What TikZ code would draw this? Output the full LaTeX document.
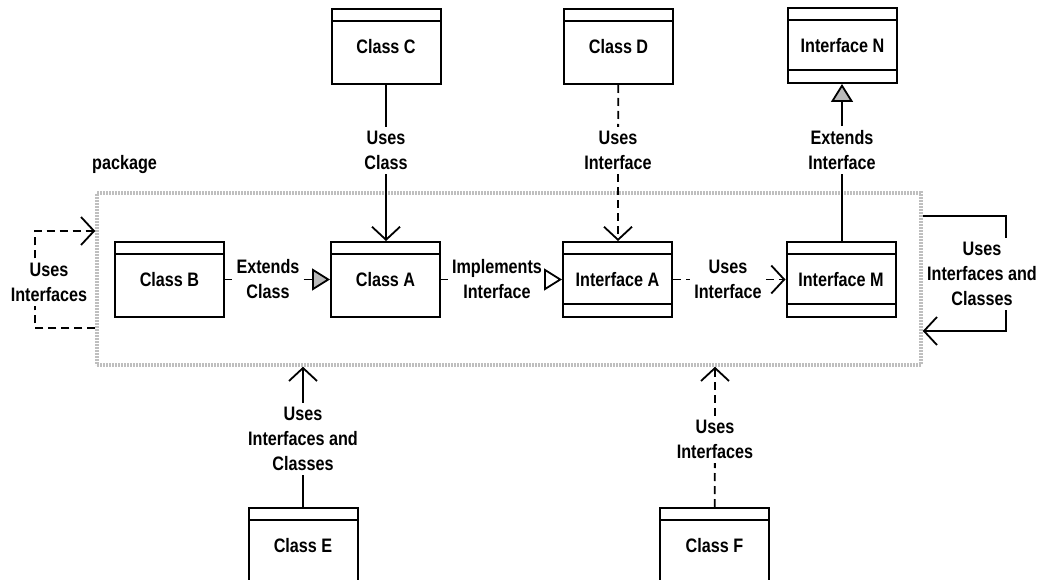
\documentclass[tikz,border=0pt]{standalone}
\usepackage{fontspec}
\setmainfont{Liberation Sans}[FakeStretch=0.83]
\usetikzlibrary{arrows.meta}
\begin{document}
\begin{tikzpicture}[x=1pt,y=-1pt,
  every node/.style={font=\fontsize{19.5}{25}\selectfont\bfseries},
  umlclass/.style={draw, line width=2pt, minimum width=109pt, minimum height=75pt, inner sep=0pt,
    path picture={\draw[line width=2pt] ([yshift=-12pt]path picture bounding box.north west) -- ([yshift=-12pt]path picture bounding box.north east);}},
  umliface/.style={draw, line width=2pt, minimum width=109pt, minimum height=75pt, inner sep=0pt,
    path picture={\draw[line width=2pt] ([yshift=-12pt]path picture bounding box.north west) -- ([yshift=-12pt]path picture bounding box.north east);
      \draw[line width=2pt] ([yshift=13pt]path picture bounding box.south west) -- ([yshift=13pt]path picture bounding box.south east);}},
  lbl/.style={align=center, inner sep=4pt},
  conn/.style={line width=1.8pt},
  dashconn/.style={line width=1.8pt, dash pattern=on 8pt off 5pt},
  usesarrow/.style={-{Straight Barb[length=13pt,width=28pt,line width=1.8pt]}},
  extendsarrow/.style={-{Triangle[length=18pt,width=22pt,fill=gray!55,line width=1.8pt]}},
  implarrow/.style={-{Triangle[open,length=18pt,width=22pt,line width=1.8pt]}},
  pkgborder/.style={draw=gray!50, line width=3.5pt, dash pattern=on 2pt off 1pt, minimum width=824pt, minimum height=172pt, inner sep=0pt}
]
\useasboundingbox (0,0) rectangle (1039,580);

% package frame and its title
\node[pkgborder] (pkg) at (509,279) {};
\node[anchor=west, inner sep=0pt] (pkgname) at (92,165) {package};

% classes and interfaces
\node[umlclass] (B) at (169.5,279.5) {Class B};
\node[umlclass] (A) at (385.5,279.5) {Class A};
\node[umliface] (IA) at (617.5,279.5) {Interface A};
\node[umliface] (IM) at (841,279.5) {Interface M};
\node[umlclass] (C) at (386,46.5) {Class C};
\node[umlclass] (D) at (618.5,46.5) {Class D};
\node[umliface] (N) at (842.5,45.5) {Interface N};
\node[umlclass] (E) at (303,545.5) {Class E};
\node[umlclass] (F) at (714.5,545.5) {Class F};

% relation labels
\node[lbl] (lCA) at (386,150.5) {Uses\\Class};
\node[lbl] (lDIA) at (618,150.5) {Uses\\Interface};
\node[lbl] (lMN) at (842,150) {Extends\\Interface};
\node[lbl] (lBA) at (268,279.5) {Extends\\Class};
\node[lbl] (lAIA) at (497,279.5) {Implements\\Interface};
\node[lbl] (lIAM) at (728,279.5) {Uses\\Interface};
\node[lbl] (lLeft) at (49,282) {Uses\\Interfaces};
\node[lbl] (lRight) at (982,274) {Uses\\Interfaces and\\Classes};
\node[lbl] (lE) at (303,439) {Uses\\Interfaces and\\Classes};
\node[lbl] (lF) at (715,439.5) {Uses\\Interfaces};

% loop corners
\coordinate (lo1) at (35,328);
\coordinate (lo2) at (35,231);
\coordinate (ro1) at (1006,216);
\coordinate (ro2) at (1006,331);

% connectors
\draw[conn] (C) -- (lCA);
\draw[conn, usesarrow] (lCA) -- (lCA |- A.north);
\draw[dashconn] (D) -- (lDIA);
\draw[dashconn, usesarrow] (lDIA) -- (lDIA |- IA.north);
\draw[conn] (IM.north -| lMN) -- (lMN);
\draw[conn, extendsarrow] (lMN) -- (lMN |- N.south);
\draw[conn] (B) -- (lBA);
\draw[conn, extendsarrow] (lBA) -- (A);
\draw[conn] (A) -- (lAIA);
\draw[conn, implarrow] (lAIA) -- (IA);
\draw[dashconn] (IA) -- (lIAM);
\draw[dashconn, usesarrow] (lIAM) -- (IM);
\draw[conn] (E) -- (lE);
\draw[conn, usesarrow] (lE) -- (lE |- pkg.south);
\draw[dashconn] (F) -- (lF);
\draw[dashconn, usesarrow] (lF) -- (lF |- pkg.south);

% self-dependencies of the package
\draw[dashconn] (pkg.west |- lo1) -- (lo1) -- (lo1 |- lLeft.south);
\draw[dashconn, usesarrow] (lo2 |- lLeft.north) -- (lo2) -- (pkg.west |- lo2);
\draw[conn] (pkg.east |- ro1) -- (ro1) -- (ro1 |- lRight.north);
\draw[conn, usesarrow] (ro2 |- lRight.south) -- (ro2) -- (pkg.east |- ro2);
\end{tikzpicture}
\end{document}
